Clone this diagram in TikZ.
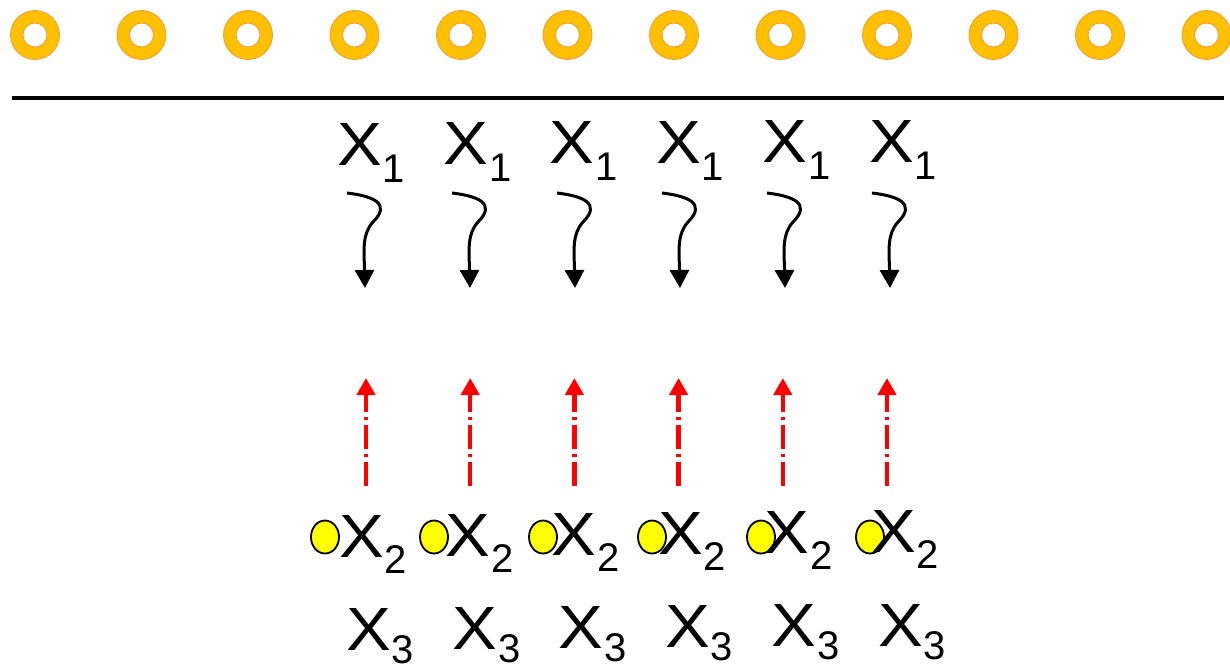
\documentclass[tikz,border=0pt]{standalone}
\usepackage{fontspec}
\setmainfont{Liberation Sans}
\usetikzlibrary{arrows.meta,shapes.geometric}
\definecolor{ringfill}{HTML}{FFC000}
\definecolor{ringline}{HTML}{F39A3C}
\definecolor{dotfill}{HTML}{FFFF00}
\definecolor{redarrow}{HTML}{FF0000}
\newcommand{\bigX}{\fontsize{61}{61}\selectfont\scalebox{1.1}[1]{X}}
\newcommand{\subsc}[2]{\kern1pt\raisebox{-#1pt}{\fontsize{40}{40}\selectfont #2}}
\tikzset{
  ring/.style={fill=ringfill, draw=ringline, line width=0.8pt, even odd rule},
  lbl/.style={anchor=base west, inner sep=0pt, outer sep=0pt},
  curly/.style={line width=3pt, -{Triangle[width=19pt,length=18pt]}},
  redup/.style={redarrow, line width=4.5pt, dash pattern=on 24pt off 5pt on 3pt off 5pt, -{Triangle[width=18pt,length=17pt]}},
  dot/.style={ellipse, draw=black, fill=dotfill, line width=1.8pt, minimum width=28pt, minimum height=33pt, inner sep=0pt}
}
\begin{document}
\begin{tikzpicture}[x=1pt,y=-1pt]
\useasboundingbox (0,0) rectangle (1230,669);
% rings
\foreach \i in {0,...,11}{
  \pgfmathsetmacro{\cx}{35+106.5*\i}
  \path[ring] (\cx,35) circle (24.5pt) (\cx,35) circle (12pt);
}
% rule
\coordinate (ruleL) at (12,98);
\coordinate (ruleR) at (1224,98);
\draw[line width=4pt] (ruleL) -- (ruleR);
\foreach \i in {0,...,5}{
  \pgfmathsetmacro{\dx}{106.4*\i}
  \pgfmathsetmacro{\ax}{105*\i}
  \pgfmathsetmacro{\rx}{104.2*\i}
  \pgfmathsetmacro{\cx}{109*\i}
  % X1
  \node[lbl] (xa\i) at ({337+\dx},{165-0.6*\i}) {\bigX\subsc{17}{1}};
  % curly arrow
  \coordinate (cs\i) at ({347+\ax},193);
  \coordinate (ce\i) at ({365+\ax},288);
  \draw[curly] (cs\i) .. controls ({372+\ax},196) and ({392+\ax},203) .. ({373+\ax},222)
     .. controls ({362+\ax},234) and ({364+\ax},250) .. (ce\i);
  % red dash-dot arrow
  \coordinate (rs\i) at ({366+\rx},486);
  \coordinate (re\i) at ({366+\rx},378);
  \draw[redup] (rs\i) -- (re\i);
  % yellow dot
  \node[dot] (d\i) at ({325+\cx},537) {};
  % X2
  \node[lbl] (xb\i) at ({339+\dx},{557-\i}) {\bigX\subsc{16}{2}};
  % X3
  \node[lbl] (xc\i) at ({346+\dx},{650-0.8*\i}) {\bigX\subsc{13}{3}};
}
\end{tikzpicture}
\end{document}
